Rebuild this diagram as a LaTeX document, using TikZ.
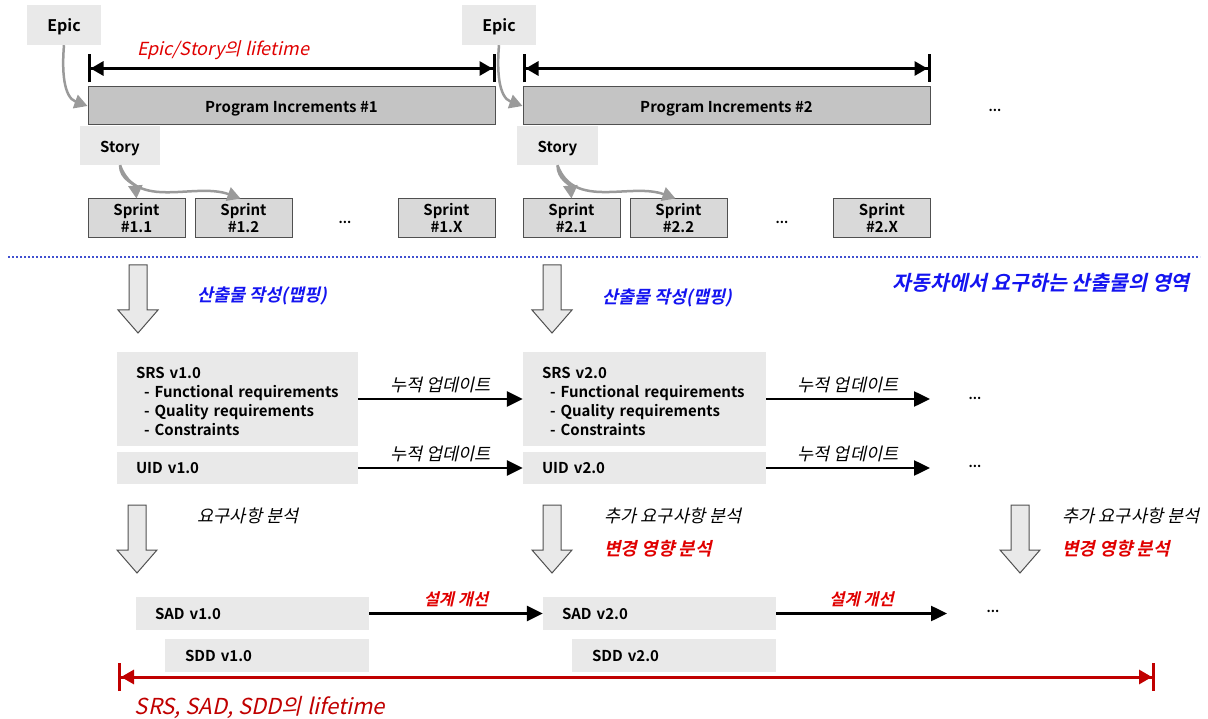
\documentclass[tikz,border=0pt]{standalone}
\usepackage{fontspec}
\setmainfont{Noto Sans CJK KR}[
  BoldFont={Noto Sans CJK KR Bold},
  ItalicFont={Noto Sans CJK KR}, ItalicFeatures={FakeSlant=0.22},
  BoldItalicFont={Noto Sans CJK KR Bold}, BoldItalicFeatures={FakeSlant=0.22}]
\usetikzlibrary{arrows.meta,positioning}
\definecolor{boxlight}{HTML}{E9E9E9}
\definecolor{pigray}{HTML}{C4C4C4}
\definecolor{sprintgray}{HTML}{D9D9D9}
\definecolor{edgegray}{HTML}{505050}
\definecolor{feedgray}{HTML}{9A9A9A}
\definecolor{darkred}{HTML}{C00000}
\definecolor{labelred}{HTML}{E00000}
\definecolor{maprblue}{HTML}{1414F0}
\definecolor{dotblue}{HTML}{4050D0}

\begin{document}
\begin{tikzpicture}
[
    x=1pt, y=-1pt,
    every node/.style={inner sep=0pt},
    capline/.style={text height=14pt, text depth=0pt},
    lightbox/.style={fill=boxlight, font=\fontsize{15}{19}\selectfont\bfseries},
    pibox/.style={fill=pigray, draw=edgegray, line width=1pt, minimum width=407, minimum height=38, capline, font=\fontsize{15}{17}\selectfont\bfseries},
    sprintbox/.style={fill=sprintgray, draw=edgegray, line width=1pt, minimum width=97, minimum height=39, align=center, font=\fontsize{15}{17}\selectfont\bfseries},
    docbox/.style={lightbox, align=left, anchor=center},
    notelabel/.style={font=\fontsize{17.5}{19}\selectfont\itshape},
    redlabel/.style={text=labelred, font=\fontsize{18}{20}\selectfont\bfseries\itshape},
    maplabel/.style={text=maprblue, font=\fontsize{17.5}{19}\selectfont\bfseries\itshape},
    dots/.style={font=\fontsize{13}{15}\selectfont\bfseries},
    span/.style={line width=3pt, {Bar[width=28pt,line width=3pt]Triangle[length=13pt,width=14pt]}-{Triangle[length=13pt,width=14pt]Bar[width=28pt,line width=3pt]}},
    flow/.style={line width=2.5pt, -{Triangle[length=16pt,width=15pt]}},
    feed/.style={feedgray, line width=2.5pt, -{Triangle[length=13pt,width=14pt]}},
    bigdown/.pic={\draw[fill=boxlight, draw=edgegray, line width=1pt] (-9,0) -- (9,0) -- (9,45) -- (20,45) -- (0,68) -- (-20,45) -- (-9,45) -- cycle;},
]
\useasboundingbox (0,0) rectangle (1208,719);

\node[lightbox, capline, minimum width=74, minimum height=40, font=\fontsize{16}{18}\selectfont\bfseries] (epicA) at (64,25) {Epic};
\node[lightbox, capline, minimum width=74, minimum height=40, font=\fontsize{16}{18}\selectfont\bfseries] (epicB) at (499,25) {Epic};
\node[text=labelred, font=\fontsize{18}{20}\selectfont\itshape] (lifeA) at (223,50) {Epic/Story의 lifetime};

\node[pibox] (piA) at (291.5,106) {Program Increments \#1};
\node[pibox] (piB) at (726.5,106) {Program Increments \#2};
\node[dots] (piC) at (995,110) {...};
\draw[span] ([yshift=18pt]piA.north west) -- ([yshift=18pt]piA.north east);
\draw[span] ([yshift=18pt]piB.north west) -- ([yshift=18pt]piB.north east);

\node[lightbox, capline, minimum width=80, minimum height=39] (storyA) at (120,145.5) {Story};
\node[lightbox, capline, minimum width=81, minimum height=39] (storyB) at (557.5,145.5) {Story};

\node[sprintbox] (spA1) at (136.5,218.5) {Sprint\\\#1.1};
\node[sprintbox] (spA2) at (243.5,218.5) {Sprint\\\#1.2};
\node[dots] (spAd) at (345,222) {...};
\node[sprintbox] (spAX) at (446.5,218.5) {Sprint\\\#1.X};
\node[sprintbox] (spB1) at (571.5,218.5) {Sprint\\\#2.1};
\node[sprintbox] (spB2) at (678.5,218.5) {Sprint\\\#2.2};
\node[dots] (spBd) at (782,222) {...};
\node[sprintbox] (spBX) at (882,218.5) {Sprint\\\#2.X};

\draw[feed] (epicA.south) to[out=-95, in=160] (piA.west);
\draw[feed] (epicB.south) to[out=-95, in=160] (piB.west);
\draw[feed] (storyA.south) to[out=-90, in=95] (spA1.north);
\draw[feed] (storyA.south) to[out=-70, in=160] ([xshift=-3pt]spA2.north);
\draw[feed] (storyB.south) to[out=-90, in=95] (spB1.north);
\draw[feed] (storyB.south) to[out=-70, in=160] ([xshift=-3pt]spB2.north);

\draw[dotblue, line width=2pt, dash pattern=on 2pt off 2pt] (8,257) -- (1200,257);
\node[text=maprblue, font=\fontsize{20.5}{22}\selectfont\bfseries\itshape, anchor=east] (area) at (1190,283) {자동차에서 요구하는 산출물의 영역};

\pic at (138,265) {bigdown};
\pic at (552,265) {bigdown};
\node[maplabel] (mapA) at (262,296) {산출물 작성(맵핑)};
\node[maplabel] (mapB) at (667,298) {산출물 작성(맵핑)};

\node[docbox, minimum width=241, minimum height=94, text width=215] (srsA) at (237.5,399)
  {\rule{0pt}{16pt}\hspace*{6pt}SRS v1.0\\\hspace*{14pt}- Functional requirements\\\hspace*{14pt}- Quality requirements\\\hspace*{14pt}- Constraints};
\node[docbox, minimum width=241, minimum height=32, text width=215] (uidA) at (237.5,468) {\hspace*{6pt}UID v1.0};
\node[docbox, minimum width=243, minimum height=94, text width=217] (srsB) at (644.5,399)
  {\rule{0pt}{16pt}\hspace*{6pt}SRS v2.0\\\hspace*{14pt}- Functional requirements\\\hspace*{14pt}- Quality requirements\\\hspace*{14pt}- Constraints};
\node[docbox, minimum width=243, minimum height=32, text width=217] (uidB) at (644.5,468) {\hspace*{6pt}UID v2.0};
\coordinate (srsC) at (930,399);
\coordinate (uidC) at (930,468);
\node[dots] (srsD) at (975,398) {...};
\node[dots] (uidD) at (975,466) {...};

\draw[flow] (srsA.east) -- node[above=5pt, notelabel] {누적 업데이트} (srsB.west);
\draw[flow] (uidA.east) -- node[above=5pt, notelabel] {누적 업데이트} (uidB.west);
\draw[flow] (srsB.east) -- node[above=5pt, notelabel] {누적 업데이트} (srsC);
\draw[flow] (uidB.east) -- node[above=5pt, notelabel] {누적 업데이트} (uidC);

\pic at (137,505) {bigdown};
\pic at (552,505) {bigdown};
\pic at (1020,505) {bigdown};
\node[notelabel] (reqA) at (248,516) {요구사항 분석};
\node[notelabel] (reqB) at (673,516) {추가 요구사항 분석};
\node[notelabel] (reqC) at (1131,516) {추가 요구사항 분석};
\node[redlabel] (impB) at (658,549) {변경 영향 분석};
\node[redlabel] (impC) at (1116,549) {변경 영향 분석};

\node[docbox, minimum width=233, minimum height=33, text width=195] (sadA) at (252.5,613.5) {SAD v1.0};
\node[docbox, minimum width=204, minimum height=33, text width=164] (sddA) at (267,655.5) {SDD v1.0};
\node[docbox, minimum width=233, minimum height=33, text width=195] (sadB) at (659.5,613.5) {SAD v2.0};
\node[docbox, minimum width=204, minimum height=33, text width=164] (sddB) at (674,655.5) {SDD v2.0};
\coordinate (sadC) at (947,613.5);
\node[dots] (sadD) at (993,611) {...};
\draw[flow] (sadA.east) -- node[above=5pt, redlabel, font=\fontsize{16.5}{18}\selectfont\bfseries\itshape] {설계 개선} (sadB.west);
\draw[flow] (sadB.east) -- node[above=5pt, redlabel, font=\fontsize{16.5}{18}\selectfont\bfseries\itshape] {설계 개선} (sadC);

\coordinate (lifeL) at (118,677);
\coordinate (lifeR) at (1155,677);
\draw[span, darkred] (lifeL) -- (lifeR);
\node[text=darkred, font=\fontsize{22}{24}\selectfont\itshape] (lifeB) at (260,707) {SRS, SAD, SDD의 lifetime};
\end{tikzpicture}
\end{document}
